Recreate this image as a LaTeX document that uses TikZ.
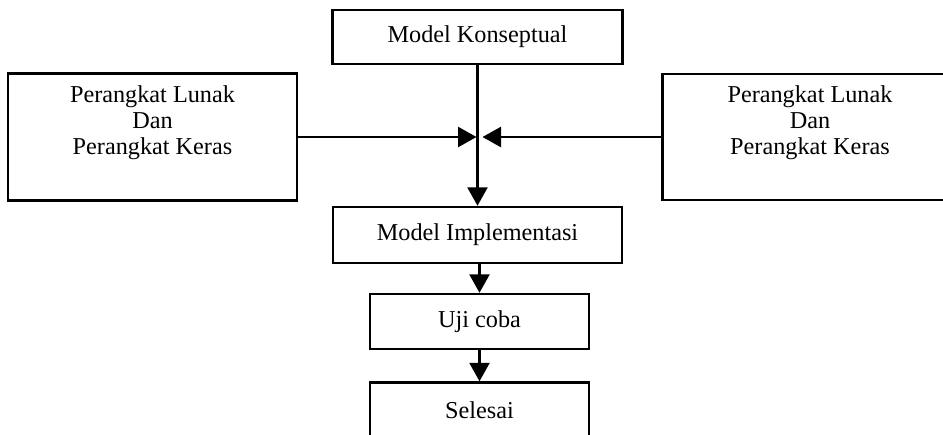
\documentclass[tikz,border=0pt]{standalone}
\usepackage{fontspec}
\setmainfont{Liberation Serif}
\usetikzlibrary{arrows.meta}

\tikzset{
  kotak/.style={draw, line width=1.4pt, align=center, inner sep=0pt,
    font=\fontsize{13.8}{14.8}\selectfont},
  panah/.style={-{Triangle[length=0.37cm,width=0.4cm]}, line width=1.4pt}
}

\begin{document}
\begin{tikzpicture}[x=0.02cm,y=-0.02cm]
\useasboundingbox (0,0) rectangle (943,434);
%boxes
\node[kotak, minimum width=5.8cm, minimum height=1.08cm] (konsep) at (477.5,37) {Model Konseptual};
\node[kotak, minimum width=5.78cm, minimum height=2.54cm] (lunakkiri) at (152.5,137) {Perangkat Lunak\\Dan\\Perangkat Keras\\[4pt]};
\node[kotak, minimum width=5.9cm, minimum height=2.52cm] (lunakkanan) at (810,137) {Perangkat Lunak\\Dan\\Perangkat Keras\\[4pt]};
\node[kotak, minimum width=5.78cm, minimum height=1.12cm] (impl) at (477.5,235) {Model Implementasi};
\node[kotak, minimum width=4.38cm, minimum height=1.1cm] (uji) at (479.5,321.5) {Uji coba};
\node[kotak, minimum width=4.38cm, minimum height=1.1cm] (selesai) at (479.5,410) {Selesai};
%arrows
\coordinate (temu) at (konsep.south |- lunakkiri.east);
\draw[panah] (konsep.south) -- (impl.north);
\draw[panah] (lunakkiri.east) -- ([xshift=-0.02cm]temu);
\draw[panah] (lunakkanan.west) -- ([xshift=0.1cm]temu);
\draw[panah] (uji.north |- impl.south) -- (uji.north);
\draw[panah] (uji.south) -- (selesai.north);
\end{tikzpicture}
\end{document}
